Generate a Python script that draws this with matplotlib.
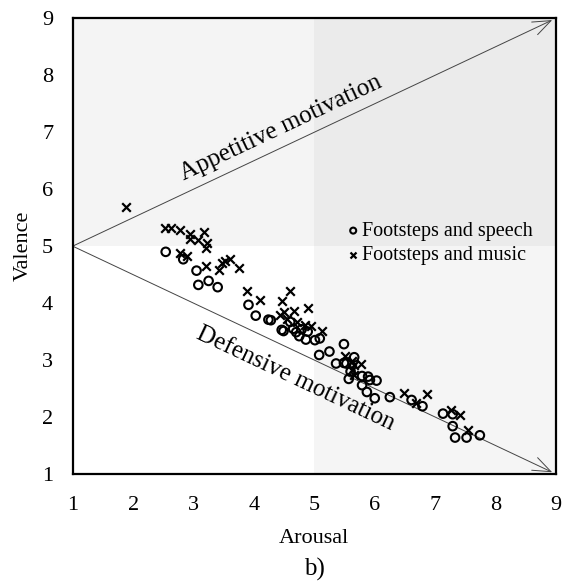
import matplotlib
matplotlib.use('Agg')
import matplotlib.pyplot as plt
import numpy as np

plt.rcParams['font.family'] = ['Liberation Serif', 'DejaVu Serif']

# Mean ratings per sound pair
speech_arousal = [2.54, 2.83, 3.05, 3.08, 3.25, 3.40, 3.91, 4.03, 4.24, 4.28,
                  4.46, 4.49, 4.60, 4.65, 4.70, 4.75, 4.79, 4.86, 4.89, 5.01,
                  5.09, 5.08, 5.25, 5.36, 5.49, 5.49, 5.53, 5.66, 5.57, 5.60,
                  5.79, 5.89, 5.92, 6.03, 5.79, 5.87, 6.00, 6.25, 6.61, 6.79,
                  7.13, 7.29, 7.29, 7.33, 7.52, 7.74]
speech_valence = [4.90, 4.77, 4.57, 4.32, 4.39, 4.28, 3.97, 3.78, 3.71, 3.70,
                  3.53, 3.51, 3.67, 3.55, 3.49, 3.42, 3.54, 3.36, 3.50, 3.35,
                  3.38, 3.09, 3.15, 2.94, 3.28, 2.95, 2.94, 3.05, 2.67, 2.80,
                  2.72, 2.71, 2.65, 2.64, 2.56, 2.44, 2.33, 2.35, 2.30, 2.19,
                  2.06, 2.05, 1.84, 1.64, 1.64, 1.68]

music_arousal = [1.88, 2.52, 2.63, 2.78, 2.94, 2.95, 3.08, 3.18, 3.22, 3.21,
                 2.78, 2.90, 3.21, 3.42, 3.47, 3.52, 3.60, 3.75, 3.88, 4.10,
                 4.60, 4.47, 4.67, 4.90, 4.43, 4.50, 4.71, 4.94, 5.12, 4.55,
                 4.85, 5.51, 5.62, 5.65, 5.77, 5.63, 5.65, 6.48, 6.87, 6.68,
                 7.27, 7.41, 7.55]
music_valence = [5.69, 5.32, 5.32, 5.29, 5.21, 5.12, 5.11, 5.25, 5.06, 4.96,
                 4.88, 4.82, 4.66, 4.58, 4.71, 4.74, 4.78, 4.61, 4.21, 4.06,
                 4.21, 4.04, 3.86, 3.92, 3.79, 3.85, 3.67, 3.60, 3.51, 3.72,
                 3.62, 3.08, 2.99, 2.91, 2.94, 2.82, 2.74, 2.43, 2.40, 2.24,
                 2.12, 2.04, 1.77]

scale_ticks = [1, 2, 3, 4, 5, 6, 7, 8, 9]

fig = plt.figure(figsize=(5.66, 5.86), dpi=100)
ax = fig.add_axes([0.1284, 0.1911, 0.8539, 0.7777])
ax.set_xlim(1, 9)
ax.set_ylim(1, 9)

# quadrant backgrounds
quadrants = [
    ((1, 5), (5, 9), '#f4f4f4'),
    ((5, 9), (5, 9), '#ebebeb'),
    ((5, 9), (1, 5), '#f5f5f5'),
]
for (x0, x1), (y0, y1), col in quadrants:
    ax.fill_between([x0, x1], y0, y1, color=col, lw=0, zorder=0)

# motivation axes
arrow_kw = dict(arrowstyle='->,head_length=0.65,head_width=0.25',
                lw=0.7, color='#444444', mutation_scale=20,
                shrinkA=0, shrinkB=3)
ax.annotate('', xy=(9, 9), xytext=(1, 5), arrowprops=arrow_kw, zorder=1)
ax.annotate('', xy=(9, 1), xytext=(1, 5), arrowprops=arrow_kw, zorder=1)

angle = np.degrees(np.arctan2(4, 8))
ax.text(4.45, 7.08, 'Appetitive motivation', fontsize=18,
        rotation=angle, transform_rotates_text=True,
        rotation_mode='anchor', ha='center', va='center')
ax.text(4.68, 2.68, 'Defensive motivation', fontsize=18,
        rotation=-angle, transform_rotates_text=True,
        rotation_mode='anchor', ha='center', va='center')

ax.scatter(speech_arousal, speech_valence, s=38, facecolors='none',
           edgecolors='black', linewidths=1.5, zorder=3,
           label='Footsteps and speech')
ax.scatter(music_arousal, music_valence, s=38, marker='x', c='black',
           linewidths=1.6, zorder=3, label='Footsteps and music')

ax.legend(loc='center left', bbox_to_anchor=(0.57, 0.506), frameon=False,
          fontsize=14.5, handlelength=0.5, handletextpad=0.2,
          borderpad=0, borderaxespad=0, labelspacing=0.25, markerscale=0.7)

ax.set_xticks(scale_ticks)
ax.set_yticks(scale_ticks)
ax.tick_params(length=0, labelsize=16, pad=14)
ax.tick_params(axis='x', pad=16)
for sp in ax.spines.values():
    sp.set_linewidth(1.6)

ax.set_xlabel('Arousal', fontsize=16, labelpad=10)
ax.set_ylabel('Valence', fontsize=16, labelpad=7)
fig.text(0.555, 0.028, 'b)', fontsize=18, ha='center', va='center')

fig.savefig('out.png', dpi=100)
